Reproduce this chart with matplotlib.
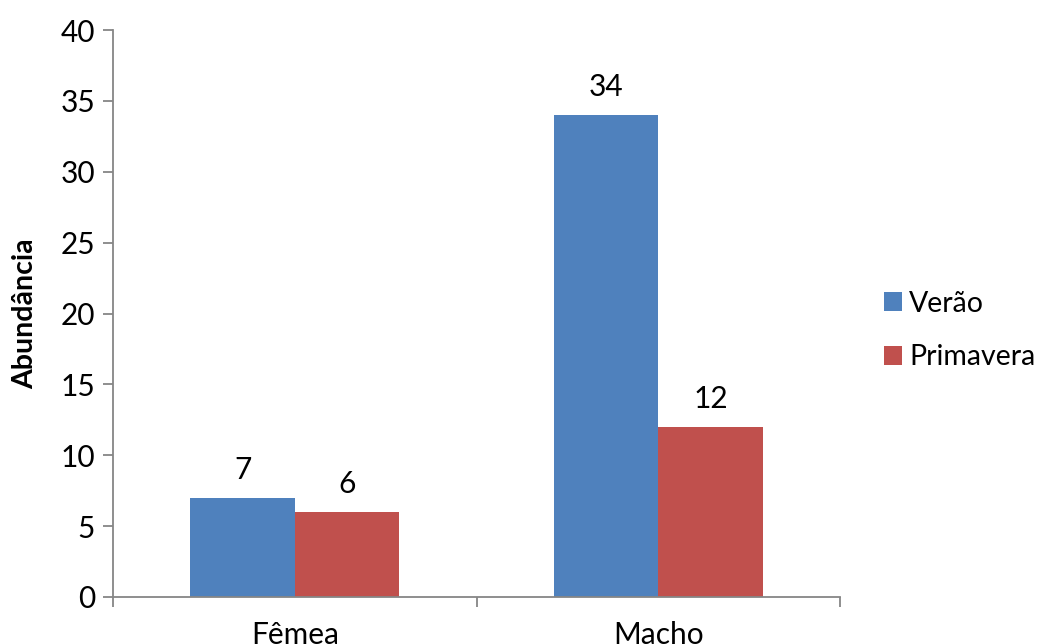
import numpy as np
import matplotlib.pyplot as plt

plt.rcParams["font.family"] = ["Lato", "DejaVu Sans"]

categories = ["Fêmea", "Macho"]
verao = [7, 34]
primavera = [6, 12]
series_names = ["Verão", "Primavera"]
colors = ["#4F81BD", "#C0504D"]

fig = plt.figure(figsize=(10.46, 6.44), dpi=100)
ax = fig.add_axes([113 / 1046, 1 - 597 / 644, (840 - 113) / 1046, (597 - 30) / 644])

x = np.arange(len(categories))
w = 0.287
bars1 = ax.bar(x - w / 2, verao, w, color=colors[0], label=series_names[0])
bars2 = ax.bar(x + w / 2, primavera, w, color=colors[1], label=series_names[1])
for bars in (bars1, bars2):
    ax.bar_label(bars, padding=10, fontsize=21.5)

ax.set_xlim(-0.5, 1.5)
ax.set_ylim(0, 40)
ax.set_yticks(range(0, 41, 5))
ax.set_xticks(x)
ax.set_xticklabels(categories)
ax.set_xticks([-0.5, 0.5, 1.5], minor=True)
ax.tick_params(axis="x", which="major", length=0, pad=17, labelsize=21.5)
ax.tick_params(axis="x", which="minor", length=7, color="#868686", width=1.3)
ax.tick_params(axis="y", length=7, color="#868686", width=1.3, labelsize=21.5, pad=6)
for side in ("top", "right"):
    ax.spines[side].set_visible(False)
for side in ("left", "bottom"):
    ax.spines[side].set_color("#868686")
    ax.spines[side].set_linewidth(1.3)

ax.set_ylabel("Abundância", fontsize=20.5, fontweight="bold", labelpad=16)

ax.legend(loc="center left", bbox_to_anchor=(1.06, 0.47), frameon=False,
          fontsize=20.5, handlelength=0.65, handleheight=0.65, handletextpad=0.25,
          labelspacing=0.95, borderaxespad=0, borderpad=0)

fig.savefig("out.png", dpi=100)
